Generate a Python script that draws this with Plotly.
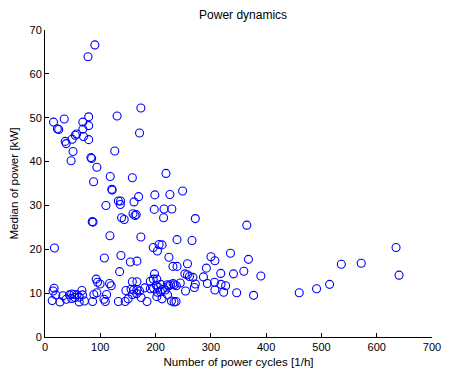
import plotly.graph_objects as go

# Power cycles per hour and median power for each recorded machine
cycles = [
    # upper group
    90.2, 77.8, 173.4, 15.4, 34.8, 22.4, 24.8, 79.0, 68.4, 79.0, 130.4, 68.4, 171.0,
    57.2, 54.8, 49.0, 69.6, 79.0, 36.6, 38.4, 50.7, 126.2, 47.2, 83.1, 84.4, 93.8,
    118.0, 87.9, 158.0, 218.8, 120.9, 121.5, 169.3, 198.7, 225.9, 248.9, 110.2,
    132.7, 136.7, 136.2, 161.0, 159.2, 162.7, 165.0, 197.6, 215.3, 229.4, 214.5,
    85.4, 86.8, 138.5, 143.3, 117.4, 173.4, 17.1, 238.8, 195.8, 203.4, 206.4,
    211.7, 107.4, 137.4, 154.4, 166.3, 224.1, 231.4, 238.8, 257.7, 135.0,
    300.2, 307.3, 335.5, 368.0, 291.9, 265.9, 271.9, 365.0,
    # lower band
    13.0, 14.7, 16.5, 19.5, 27.1, 32.4, 38.4, 44.2, 48.3, 48.3, 52.5, 54.3, 57.8,
    61.9, 66.7, 67.8, 61.9, 71.3, 86.1, 88.4, 93.8, 106.7, 109.1, 111.4, 132.7,
    145.0, 146.3, 150.4, 155.7, 158.0, 160.4, 165.8, 166.3, 171.0, 173.9, 180.4,
    184.5, 190.5, 202.2, 203.4, 204.7, 208.7, 211.7, 217.6, 221.7, 224.1, 228.7,
    233.5, 237.0,
    92.5, 95.0, 99.6, 116.8, 119.8, 158.0, 166.3, 190.5, 195.8, 198.1, 202.2,
    196.4, 201.1, 209.3, 212.3, 221.1, 227.0, 231.7, 234.0, 237.6, 244.7, 253.0,
    257.7, 261.3, 267.7, 254.2, 271.9, 270.1, 286.6, 293.6, 306.6, 307.3, 317.9,
    318.4, 326.7, 323.2, 340.9, 346.7, 359.6, 377.3, 390.4,
    # high cycle counts
    635.0, 536.0, 572.0, 640.4, 514.8, 491.2, 459.9,
]

median_power = [
    66.6, 63.9, 52.2, 49.0, 49.7, 47.5, 47.3, 50.2, 49.0, 48.2, 50.4, 47.4, 46.5,
    46.3, 46.0, 45.1, 45.7, 45.0, 44.6, 44.1, 42.3, 42.4, 40.2, 40.9, 40.7, 38.7,
    36.6, 35.4, 36.3, 37.3, 33.7, 33.5, 32.0, 32.4, 32.5, 33.3, 30.0,
    31.0, 31.0, 30.2, 30.8, 28.1, 27.7, 27.9, 29.1, 29.2, 29.2, 27.2,
    26.3, 26.2, 27.2, 26.8, 23.1, 22.8, 20.3, 22.2, 20.4, 19.6, 21.1,
    21.0, 18.0, 18.6, 17.1, 17.3, 18.2, 16.1, 16.1, 16.7, 14.9,
    18.3, 17.4, 19.1, 17.7, 15.7, 22.0, 27.0, 25.5,
    8.3, 10.5, 11.1, 9.6, 8.0, 9.4, 8.6, 9.6, 9.8, 8.8, 9.7, 9.0, 9.6,
    9.1, 10.6, 9.6, 8.0, 8.2, 8.1, 9.7, 10.1, 8.6, 8.1, 9.7, 8.1,
    8.1, 10.6, 8.7, 10.9, 9.7, 10.7, 9.9, 10.8, 10.5, 9.0, 11.2,
    8.1, 11.0, 9.2, 10.2, 11.3, 10.3, 8.7, 10.7, 9.6, 11.7, 8.2,
    8.0, 8.1,
    13.2, 12.5, 12.1, 12.2, 11.7, 12.6, 12.6, 12.7, 13.2, 14.4, 13.2,
    11.1, 11.8, 12.0, 10.8, 11.9, 11.9, 12.2, 11.9, 11.7, 12.3, 14.4,
    14.2, 13.8, 13.6, 10.5, 12.1, 11.3, 13.7, 12.2, 12.5, 10.7, 14.5,
    12.0, 11.7, 10.2, 14.4, 10.1, 15.0, 9.5, 13.9,
    20.4, 16.6, 16.8, 14.1, 12.0, 11.0, 10.1,
]

x_ticks = [0, 100, 200, 300, 400, 500, 600, 700]
y_ticks = [0, 10, 20, 30, 40, 50, 60, 70]

fig = go.Figure(
    go.Scatter(
        x=cycles,
        y=median_power,
        mode="markers",
        marker=dict(
            symbol="circle-open",
            size=8,
            color="#0000ff",
            line=dict(width=1.1, color="#0000ff"),
        ),
        showlegend=False,
    )
)

axis_common = dict(
    showgrid=False,
    zeroline=False,
    showline=True,
    linecolor="#000000",
    linewidth=1,
    ticks="inside",
    ticklen=4,
    tickcolor="#000000",
    mirror=False,
    tickfont=dict(family="Liberation Sans, Arial, sans-serif", size=11, color="#000000"),
)

fig.update_layout(
    width=451,
    height=376,
    margin=dict(l=45, r=10, t=30, b=35),
    paper_bgcolor="white",
    plot_bgcolor="white",
    font=dict(family="Liberation Sans, Arial, sans-serif", size=11, color="#000000"),
    title=dict(
        text="Power dynamics",
        x=0.539,
        xanchor="center",
        y=0.96,
        yanchor="middle",
        font=dict(size=12, color="#000000"),
    ),
    xaxis=dict(
        range=[0, 700],
        tickvals=x_ticks,
        title=dict(text="Number of power cycles [1/h]", font=dict(size=11.6), standoff=5),
        **axis_common,
    ),
    yaxis=dict(
        range=[0, 70],
        tickvals=y_ticks,
        title=dict(text="Median of power [kW]", font=dict(size=11.6), standoff=8),
        **axis_common,
    ),
)

fig.write_html("out.html")
